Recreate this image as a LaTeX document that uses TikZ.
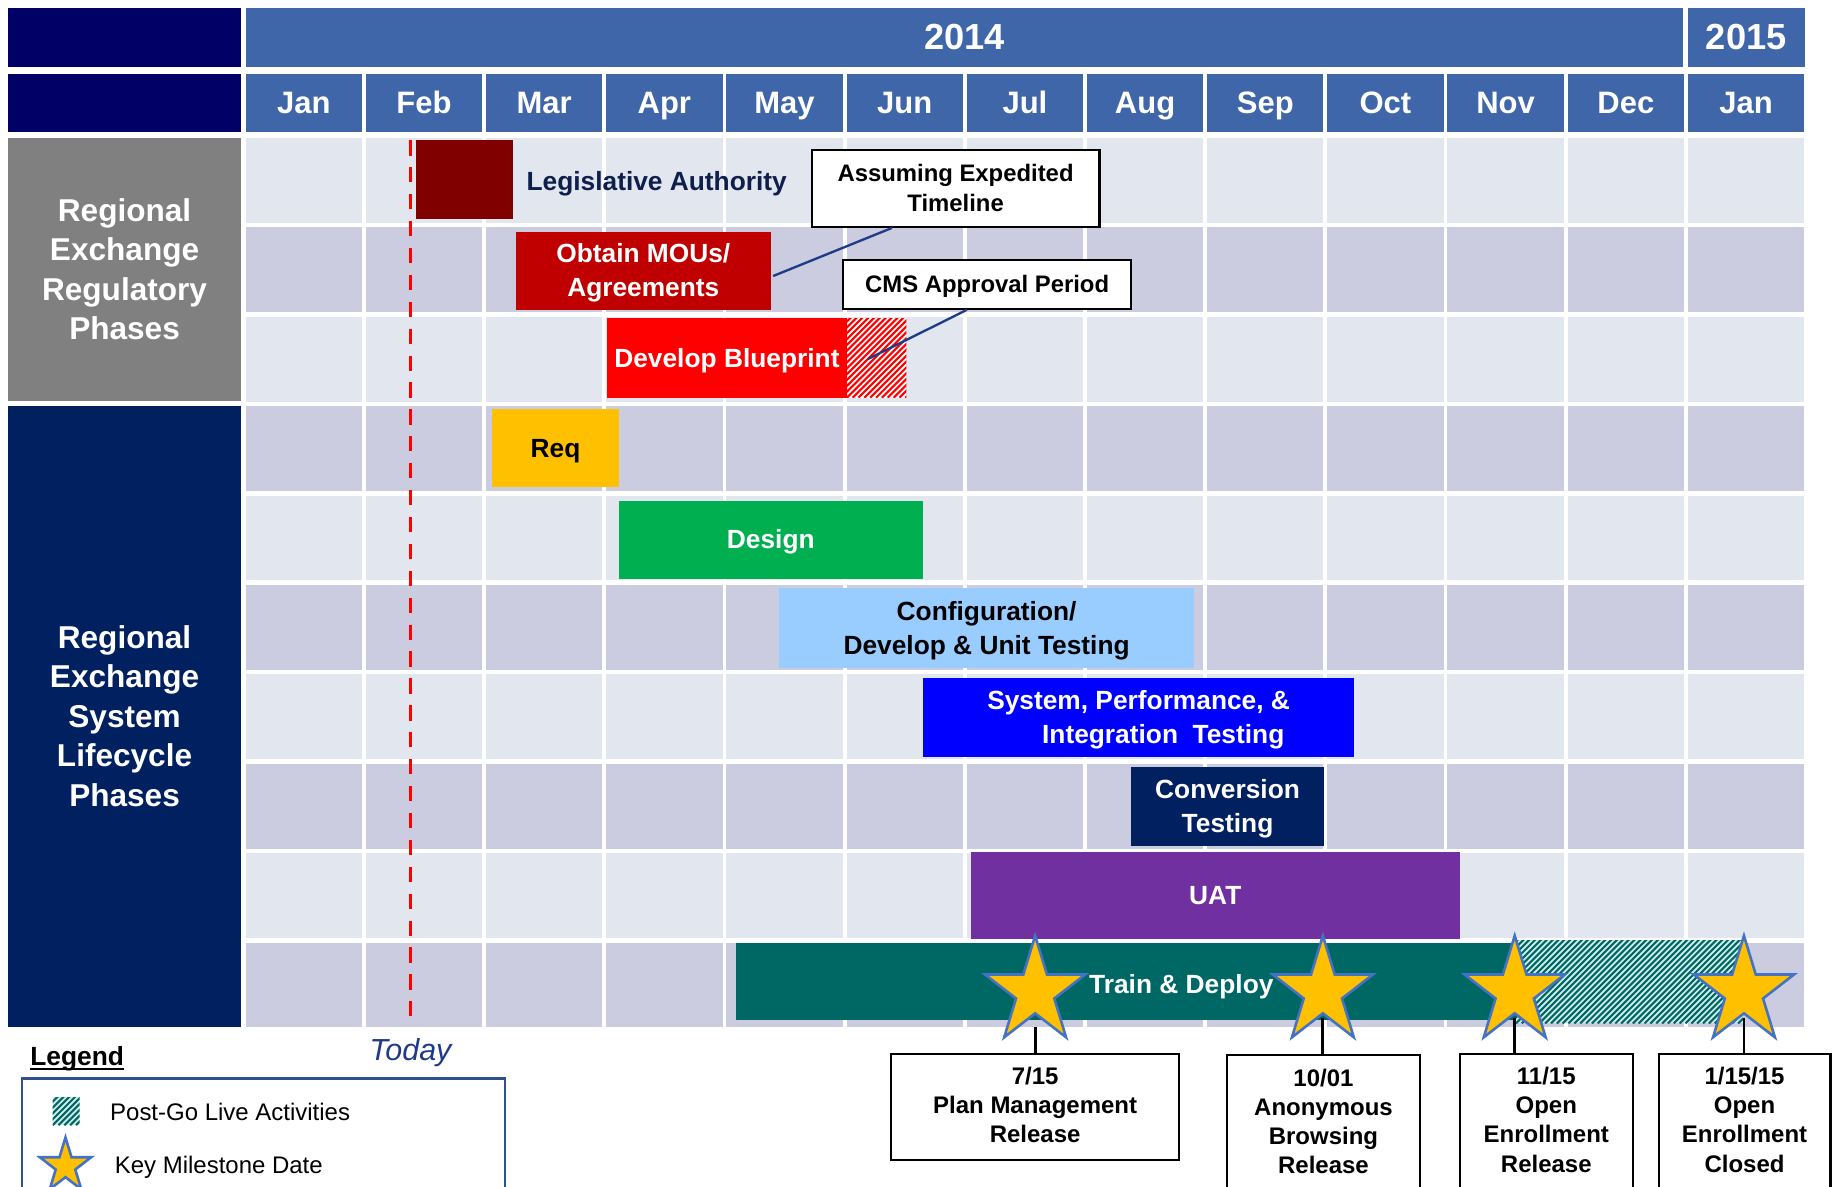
\documentclass[tikz,border=0pt]{standalone}
\usepackage{fontspec}
\setmainfont{Liberation Sans}
\usetikzlibrary{calc}

\definecolor{hdrblue}{HTML}{3F66A8}
\definecolor{hdrnavy}{HTML}{000066}
\definecolor{rowlight}{HTML}{E2E6EF}
\definecolor{rowdark}{HTML}{CBCCDF}
\definecolor{panelgray}{HTML}{808080}
\definecolor{panelnavy}{HTML}{002060}
\definecolor{legred}{HTML}{800000}
\definecolor{moured}{HTML}{C00000}
\definecolor{bpred}{HTML}{FF0000}
\definecolor{reqyellow}{HTML}{FFC000}
\definecolor{desgreen}{HTML}{00B050}
\definecolor{cfgblue}{HTML}{99CCFF}
\definecolor{sysblue}{HTML}{0000FF}
\definecolor{convnavy}{HTML}{002060}
\definecolor{uatpurple}{HTML}{7030A0}
\definecolor{trainteal}{HTML}{006864}
\definecolor{hatchcyan}{HTML}{D2EEEC}
\definecolor{starfill}{HTML}{FFC000}
\definecolor{starline}{HTML}{4472C4}
\definecolor{callline}{HTML}{1F3C88}
\definecolor{legendline}{HTML}{2F528F}
\definecolor{todayblue}{HTML}{1F3A8A}
\definecolor{legtext}{HTML}{0F1F4B}

% invisible struts giving every text line the font's full ascent and descent
\newcommand\tstrut{\leavevmode\vrule width 0pt height 0.905em depth 0pt\relax}
\newcommand\bstrut{\vrule width 0pt height 0pt depth 0.212em\relax}
\newcommand\fullstrut{\tstrut\bstrut}

% diagonal stripes clipped to a rectangle: x1,y1,x2,y2,stripe colour,background
\newcommand\hatchbox[6]{%
  \begin{scope}
    \clip (#1,#2) rectangle (#3,#4);
    \fill[#6] (#1,#2) rectangle (#3,#4);
    \foreach \k in {0,...,70}
      \draw[#5, line width=1.8] ({#1-100+5*\k},#4) -- ++(100,-100);
  \end{scope}}

% five-pointed milestone star: name, centre x, centre y, outer radius
\newcommand\milestar[4]{%
  \coordinate (#1) at (#2,#3);
  \draw[starshape, shift={(#1)}, yscale=-1.067]
    (90:#4) \foreach \k in {1,...,9}{ -- ({90+36*\k}:{#4*(1-0.618*mod(\k,2))}) } -- cycle;}

\tikzset{
  hdrcell/.style={fill=hdrblue, text=white, inner sep=0, minimum height=50,
    font=\bfseries\fontsize{26.5}{30}\selectfont},
  yearcell/.style={hdrcell, font=\bfseries\fontsize{31}{34}\selectfont},
  navycell/.style={fill=hdrnavy, inner sep=0, minimum width=199, minimum height=50},
  panel/.style={inner sep=0, minimum width=199, text=white, align=center,
    font=\bfseries\fontsize{27}{33.7}\selectfont},
  bar/.style={inner sep=0, align=center, text=white,
    font=\bfseries\fontsize{22.5}{29}\selectfont},
  callout/.style={draw=black, line width=1.8, fill=white, inner sep=0, align=center,
    minimum width=246, font=\bfseries\fontsize{20.4}{25}\selectfont},
  callconn/.style={draw=callline, line width=2},
  msbox/.style={draw=black, line width=1.8, fill=white, inner sep=0},
  mstext/.style={inner sep=0, align=center, font=\bfseries\fontsize{20.5}{25}\selectfont},
  msconn/.style={draw=black, line width=2.5},
  starshape/.style={fill=starfill, draw=starline, line width=2.2, line join=miter},
  legitem/.style={inner sep=0, anchor=west, font=\fontsize{20.5}{24}\selectfont},
}

\begin{document}
\begin{tikzpicture}[x=1pt, y=-1pt]
  \clip (0,0) rectangle (1568,1014);
  \fill[white] (0,0) rectangle (1568,1014);

  % ---- header ----
  \node[navycell] (hdrA) at (106.5,32) {};
  \node[navycell] (hdrB) at (106.5,88) {};
  \node[yearcell, minimum width=1229] (y2014) at (824.5,32) {\fullstrut 2014};
  \node[yearcell, minimum width=100] (y2015) at (1493,32) {\fullstrut 2015};
  \foreach \c/\m in {0/Jan,1/Feb,2/Mar,3/Apr,4/May,5/Jun,6/Jul,7/Aug,8/Sep,9/Oct,10/Nov,11/Dec,12/Jan}
    \node[hdrcell, minimum width=99.5] (mon\c) at ({259.75+102.75*\c},88) {\fullstrut\m};

  % ---- background grid ----
  \foreach \r in {0,...,9}{
    \pgfmathsetmacro\yt{118+76.44*\r}
    \ifodd\r\relax \def\rc{rowdark}\else \def\rc{rowlight}\fi
    \foreach \c in {0,...,12}{
      \pgfmathsetmacro\xl{210+102.75*\c}
      \fill[\rc] (\xl,\yt) rectangle ++(99.5,72.5);
    }
  }

  % ---- phase panels ----
  \node[panel, fill=panelgray, minimum height=225] (regpanel) at (106.5,230.5)
    {\tstrut Regional\\Exchange\\Regulatory\\Phases\bstrut};
  \node[panel, fill=panelnavy, minimum height=531] (syspanel) at (106.5,612.5)
    {\tstrut Regional\\Exchange\\System\\Lifecycle\\Phases\bstrut};

  % ---- today marker ----
  \coordinate (todaytop) at (351,120);
  \coordinate (todaybot) at (351,877);
  \draw[bpred, line width=3, dash pattern=on 13pt off 10pt] (todaytop) -- (todaybot);
  \node[inner sep=0, text=todayblue, font=\itshape\fontsize{26}{30}\selectfont] (today) at (351,898) {\fullstrut Today};

  % ---- regulatory phases ----
  \node[bar, fill=legred, minimum width=83, minimum height=67] (leg) at (397.5,153.5) {};
  \node[inner sep=0, anchor=west, text=legtext, font=\bfseries\fontsize{22.5}{29}\selectfont] (legtxt) at (450,155) {\fullstrut Legislative Authority};
  \node[bar, fill=moured, minimum width=218, minimum height=67] (mou) at (550,231.5) {\tstrut Obtain MOUs/\\Agreements\bstrut};
  \node[bar, fill=bpred, minimum width=205, minimum height=68] (bp) at (621.5,306) {\fullstrut Develop Blueprint};
  \hatchbox{724}{272}{775}{340}{bpred}{white}

  % ---- system lifecycle phases ----
  \node[bar, fill=reqyellow, text=black, minimum width=108, minimum height=66] (req) at (475,383) {\fullstrut Req};
  \node[bar, fill=desgreen, minimum width=260, minimum height=67] (design) at (659,461.5) {\fullstrut Design};
  \node[bar, fill=cfgblue, text=black, minimum width=355, minimum height=68] (cfg) at (843.5,537) {\tstrut Configuration/\\Develop \& Unit Testing\bstrut};
  \node[bar, fill=sysblue, minimum width=369, minimum height=67] (sys) at (973.5,613.5) {\tstrut System, Performance, \&\\\hspace*{42pt}Integration\ \ Testing\bstrut};
  \node[bar, fill=convnavy, minimum width=165, minimum height=67] (conv) at (1049.5,689.5) {\tstrut Conversion\\Testing\bstrut};
  \node[bar, fill=uatpurple, minimum width=418, minimum height=75] (uat) at (1039,765.5) {\fullstrut UAT};
  \node[bar, fill=trainteal, minimum width=667, minimum height=66] (train) at (962.5,839) {};
  \hatchbox{1296}{804}{1490}{875}{trainteal}{hatchcyan}
  \node[bar] (traintxt) at (1010,842) {\fullstrut Train \& Deploy};

  % ---- callouts ----
  \node[callout, minimum height=66] (c1) at (817,161) {\tstrut Assuming Expedited\\Timeline\bstrut};
  \node[callout, minimum height=42] (c2) at (844,243) {\fullstrut CMS Approval Period};
  \coordinate (mouend) at (661,236);
  \coordinate (cmsend) at (742,307);
  \draw[callconn] ($(c1.south west)!0.28!(c1.south east)$) -- (mouend);
  \draw[callconn] ($(c2.south west)!0.43!(c2.south east)$) -- (cmsend);

  % ---- milestone boxes ----
  \node[msbox, minimum width=246, minimum height=91, anchor=north] (m1) at (885,900) {};
  \node[mstext] (m1t) at (885,945) {\tstrut 7/15\\Plan Management\\Release\bstrut};
  \node[msbox, minimum width=165, minimum height=130, anchor=north] (m2) at (1131.5,901) {};
  \node[mstext] (m2t) at (1131.5,959) {\tstrut 10/01\\Anonymous\\Browsing\\Release\bstrut};
  \node[msbox, minimum width=148, minimum height=130, anchor=north] (m3) at (1322,900) {};
  \node[mstext] (m3t) at (1322,957.5) {\tstrut 11/15\\Open\\Enrollment\\Release\bstrut};
  \node[msbox, minimum width=147, minimum height=130, anchor=north] (m4) at (1491.5,900) {};
  \node[mstext] (m4t) at (1491.5,957.5) {\tstrut 1/15/15\\Open\\Enrollment\\Closed\bstrut};

  % ---- milestone stars ----
  \milestar{s1}{885}{848}{45}
  \milestar{s2}{1131}{848}{45}
  \milestar{s3}{1295}{848}{45}
  \milestar{s4}{1491}{848}{45}
  \draw[msconn] ($(s1)+(0,30)$) -- (s1 |- m1.north);
  \draw[msconn] ($(s2)+(0,22)$) -- (s2 |- m2.north);
  \draw[msconn] ($(s3)+(0,22)$) -- (s3 |- m3.north);
  \draw[msconn] ($(s4)+(0,22)$) -- (s4 |- m4.north);

  % ---- legend ----
  \node[inner sep=0, font=\bfseries\fontsize{22.5}{26}\selectfont] (legendtitle) at (66,903) {\fullstrut Legend};
  \draw[line width=1.8] ($(legendtitle.south west)+(0,-2)$) -- ($(legendtitle.south east)+(0,-2)$);
  \node[draw=legendline, line width=2, inner sep=0, minimum width=413, minimum height=120, anchor=north west] (legendbox) at (18,921) {};
  \hatchbox{45}{938}{68}{962}{trainteal}{hatchcyan}
  \node[legitem] (lg1) at (94,951) {\fullstrut Post-Go Live Activities};
  \milestar{lgstar}{56}{997}{23}
  \node[legitem] (lg2) at (98,996) {\fullstrut Key Milestone Date};
\end{tikzpicture}
\end{document}
